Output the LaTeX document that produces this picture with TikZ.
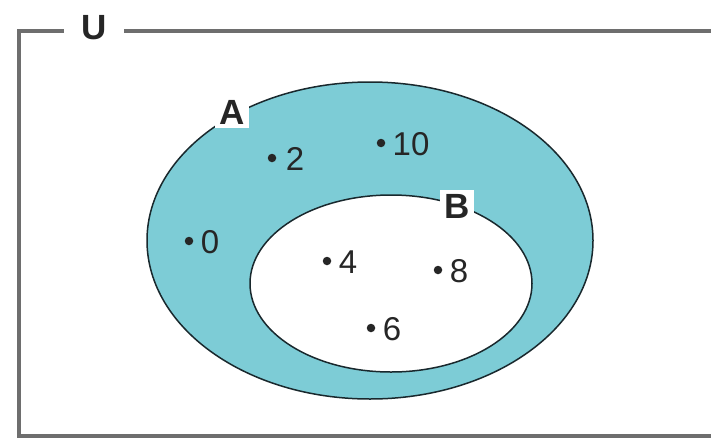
\documentclass[tikz,border=0pt]{standalone}
\usepackage{fontspec}
\setmainfont{Liberation Sans}
\usetikzlibrary{shapes.geometric}
\definecolor{setfill}{RGB}{125,204,214}
\definecolor{framegray}{RGB}{110,110,110}
\definecolor{edge}{RGB}{25,40,45}
\begin{document}
\begin{tikzpicture}[x=1pt,y=-1pt,
  frameline/.style={draw=framegray,line width=3.2pt},
  setA/.style={ellipse,draw=edge,line width=1.5pt,fill=setfill,inner sep=0pt},
  setB/.style={ellipse,draw=edge,line width=1.5pt,fill=white,inner sep=0pt},
  setlabel/.style={font=\fontsize{35}{37}\selectfont\bfseries,text=black!85,fill=white,inner sep=4pt},
  elem/.style={circle,fill=black!85,inner sep=0pt,minimum size=8.5pt},
  num/.style={font=\fontsize{33}{35}\selectfont,text=black!85,inner sep=0pt}]
\useasboundingbox (0,0) rectangle (711,439);
\fill[white] (0,0) rectangle (711,439);
% universe frame
\coordinate (tr) at (715,31);
\coordinate (tl) at (19,31);
\coordinate (bl) at (19,436);
\coordinate (br) at (715,436);
\draw[frameline] (tr) -- (tl) -- (bl) -- (br);
\node[font=\fontsize{35}{37}\selectfont\bfseries,text=black!85,fill=white,inner xsep=17pt,inner ysep=2pt] (U) at (94,28) {U};
% sets
\node[setA,minimum width=446pt,minimum height=317pt] (A) at (370,240.5) {};
\node[setB,minimum width=282pt,minimum height=177pt] (B) at (391,283.5) {};
\node[setlabel] (Alab) at (232,112) {A};
\node[setlabel] (Blab) at (457,206) {B};
% elements
\node[elem] (d2) at (272,158) {};  \node[num] (n2) at (295,159) {2};
\node[elem] (d10) at (381,143) {}; \node[num] (n10) at (411,144) {10};
\node[elem] (d0) at (189,241) {};  \node[num] (n0) at (210,242) {0};
\node[elem] (d4) at (327,261) {};  \node[num] (n4) at (348,262) {4};
\node[elem] (d8) at (438,270) {};  \node[num] (n8) at (459,271) {8};
\node[elem] (d6) at (371,328) {};  \node[num] (n6) at (392,329) {6};
\end{tikzpicture}
\end{document}
